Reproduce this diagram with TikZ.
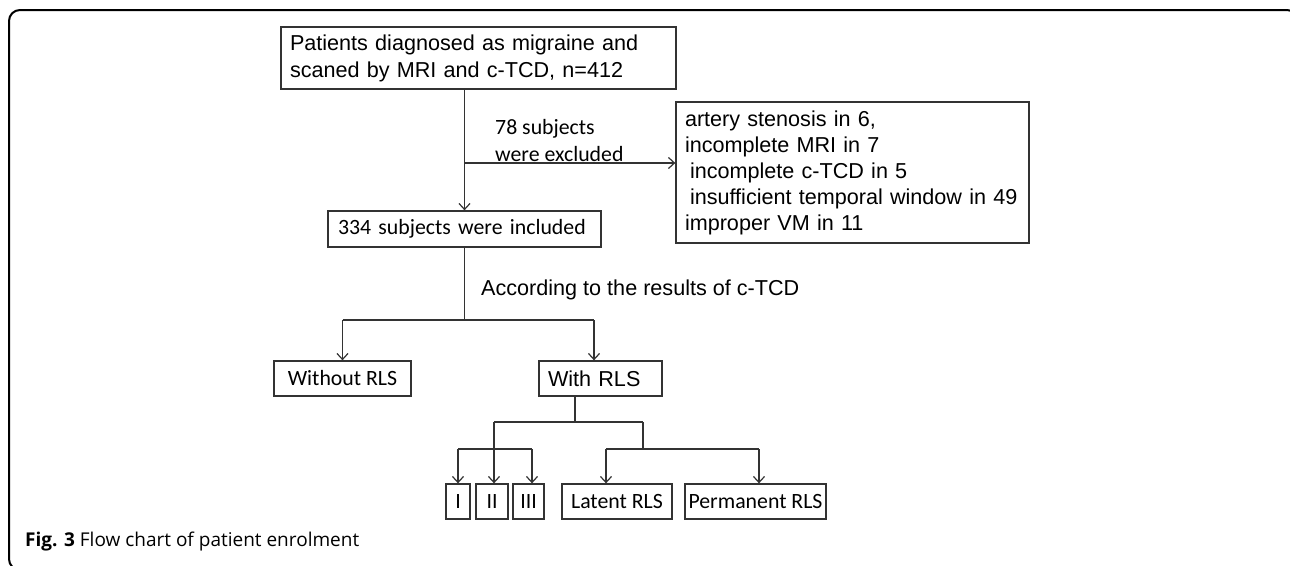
\documentclass[tikz,border=0pt]{standalone}
\usepackage{fontspec}
\setmainfont{Liberation Sans}
\newfontfamily\calfont{Carlito}
\newfontfamily\capfont{Open Sans}
\usetikzlibrary{arrows.meta}
\tikzset{
  box/.style={draw=black!80, line width=1.3pt, rectangle, inner sep=0pt, font=\fontsize{21.6}{27}\selectfont},
  cbox/.style={box, font=\calfont\fontsize{21.8}{27}\selectfont},
  link/.style={draw=black!80, line width=1.3pt},
  arr/.style={link, -{Straight Barb[length=6pt,width=11pt,line width=1.2pt]}},
  lbl/.style={inner sep=0pt, anchor=west, align=left}
}
\begin{document}
\begin{tikzpicture}[x=1pt,y=-1pt]
\useasboundingbox (0,0) rectangle (1290,565);
\begin{scope}
\clip (0,0) rectangle (1290,565);
\draw[line width=2pt, rounded corners=11pt] (9,10) rectangle (1298,570);
\end{scope}

% boxes
\node[box, minimum width=395pt, minimum height=62pt, text width=377pt, align=left, inner xsep=9pt] (top) at (478.5,58)
  {Patients diagnosed as migraine and\\scaned by MRI and c-TCD, n=412};
\node[box, minimum width=353pt, minimum height=141pt, text width=335pt, align=left, inner xsep=9pt, font=\fontsize{21.6}{26}\selectfont] (excl) at (852.5,172.5)
  {artery stenosis in 6,\\incomplete MRI in 7\\\hspace*{5pt}incomplete c-TCD in 5\\\hspace*{5pt}insufficient temporal window in 49\\improper VM in 11};
\node[cbox, minimum width=273pt, minimum height=36pt, text width=253pt, align=left, inner xsep=10pt] (inc) at (464.5,229) {334 subjects were included};
\node[cbox, minimum width=137pt, minimum height=35pt] (without) at (342.5,378.5) {Without RLS};
\node[box, minimum width=123pt, minimum height=35pt, text width=105pt, align=left, inner xsep=9pt] (with) at (600.5,378.5) {With RLS};
\node[cbox, minimum width=24pt, minimum height=35pt] (g1) at (458,501.5) {I};
\node[cbox, minimum width=32pt, minimum height=35pt] (g2) at (492,501.5) {II};
\node[cbox, minimum width=31pt, minimum height=35pt] (g3) at (528.5,501.5) {III};
\node[cbox, minimum width=110pt, minimum height=35pt] (latent) at (617,501.5) {Latent RLS};
\node[cbox, minimum width=141pt, minimum height=35pt] (perm) at (755.5,501.5) {Permanent RLS};

% labels
\node[lbl, font=\calfont\fontsize{21.8}{27}\selectfont] (exlbl) at (495,141) {78 subjects\\were excluded};
\node[lbl, font=\fontsize{21.6}{27}\selectfont] (acc) at (481,290) {According to the results of c-TCD};

% junction coordinates
\coordinate (a1) at (465,163);
\coordinate (b0) at (464.5,320);
\coordinate (bL) at (342.5,320);
\coordinate (bR) at (594,320);
\coordinate (c0) at (575,422);
\coordinate (cL) at (494,422);
\coordinate (cR) at (643,422);
\coordinate (dR) at (643,449);
\coordinate (eL) at (606,449);
\coordinate (eR) at (759,449);
\coordinate (fL) at (458,449);
\coordinate (fR) at (532,449);

% connectors
\draw[arr] (top.south -| inc.north) -- (inc.north);
\draw[arr] (a1) -- (a1 -| excl.west);
\draw[link] (inc.south) -- (b0);
\draw[link] (bL) -- (bR);
\draw[arr] (bL) -- (without.north);
\draw[arr] (bR) -- (bR |- with.north);
\draw[link] (with.south -| c0) -- (c0);
\draw[link] (cL) -- (cR);
\draw[arr] (cL) -- (cL |- g2.north);
\draw[link] (cR) -- (dR);
\draw[link] (eL) -- (eR);
\draw[arr] (eL) -- (eL |- latent.north);
\draw[arr] (eR) -- (eR |- perm.north);
\draw[link] (fL) -- (fR);
\draw[arr] (fL) -- (g1.north);
\draw[arr] (fR) -- (fR |- g3.north);

% caption
\node[lbl, font=\capfont\fontsize{19}{23}\selectfont] (cap) at (25,542) {\textbf{Fig. 3} Flow chart of patient enrolment};
\end{tikzpicture}
\end{document}
